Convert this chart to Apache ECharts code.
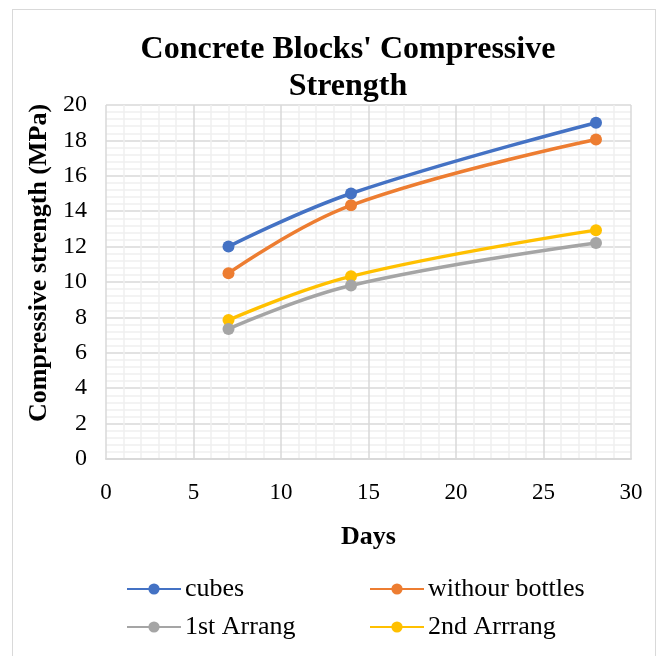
<!DOCTYPE html>
<html><head><meta charset="utf-8">
<script src="https://cdn.jsdelivr.net/npm/echarts@6/dist/echarts.min.js"></script>
<style>
html,body{margin:0;padding:0;background:#fff;}
#frame{position:absolute;left:12px;top:9px;width:644px;height:680px;border:1.5px solid #d9d9d9;box-sizing:border-box;}
#chart{position:absolute;left:0;top:0;width:662px;height:656px;}
</style>
</head><body>
<div id="frame"></div>
<div id="chart"></div>
<script>
const days = [7, 14, 28];
const cubes = [12.0, 15.0, 19.0];
const withourBottles = [10.5, 14.33, 18.05];
const firstArrang = [7.35, 9.8, 12.2];
const secondArrang = [7.85, 10.32, 12.93];
const seriesNames = ['cubes', 'withour bottles', '1st Arrang', '2nd Arrrang'];
const seriesColors = ['#4472C4', '#ED7D31', '#A5A5A5', '#FFC000'];
const xTicks = [0, 5, 10, 15, 20, 25, 30];
const yTicks = [0, 2, 4, 6, 8, 10, 12, 14, 16, 18, 20];

const FONT = '"Liberation Serif", "Times New Roman", serif';
const valuesList = [cubes, withourBottles, firstArrang, secondArrang];
const chart = echarts.init(document.getElementById('chart'), null, {renderer: 'canvas'});

function pairs(vals) { return days.map((d, i) => [d, vals[i]]); }

const legendPos = [[126, 576], [369, 576], [126, 614], [369, 614]];

chart.setOption({
  backgroundColor: 'transparent',
  animation: false,
  title: {
    text: "Concrete Blocks' Compressive\nStrength",
    left: 348, top: 31, textAlign: 'center', padding: 0,
    textStyle: {fontFamily: FONT, fontWeight: 'bold', fontSize: 32, lineHeight: 37, color: '#000'}
  },
  legend: seriesNames.map((n, i) => ({
    data: [n], left: legendPos[i][0], top: legendPos[i][1], padding: 0,
    itemWidth: 54, itemHeight: 14, itemGap: 4,
    textStyle: {fontFamily: FONT, fontSize: 26, color: '#000', padding: [0, 0, 0, -1]}
  })),
  grid: {left: 106, right: 31, top: 105, bottom: 197, containLabel: false},
  xAxis: {
    type: 'value', min: 0, max: 30, interval: 5,
    name: 'Days', nameLocation: 'middle', nameGap: 65,
    nameTextStyle: {fontFamily: FONT, fontWeight: 'bold', fontSize: 26, color: '#000'},
    axisLine: {show: true, lineStyle: {color: '#d9d9d9', width: 2}},
    axisTick: {show: false},
    axisLabel: {fontFamily: FONT, fontSize: 23, color: '#000', margin: 22,
      formatter: v => xTicks.includes(v) ? String(v) : ''},
    splitLine: {show: true, lineStyle: {color: '#d9d9d9', width: 1.5}},
    minorTick: {show: false, splitNumber: 5},
    minorSplitLine: {show: true, lineStyle: {color: '#f0f0f0', width: 1.5}}
  },
  yAxis: {
    type: 'value', min: 0, max: 20, interval: 2,
    name: 'Compressive strength (MPa)', nameLocation: 'middle', nameGap: 47,
    nameTextStyle: {fontFamily: FONT, fontWeight: 'bold', fontSize: 26, color: '#000', padding: [0, 0, 0, 38]},
    axisLine: {show: false},
    axisTick: {show: false},
    axisLabel: {fontFamily: FONT, fontSize: 24, color: '#000', margin: 19,
      formatter: v => yTicks.includes(v) ? String(v) : ''},
    splitLine: {show: true, lineStyle: {color: '#d9d9d9', width: 1.5}},
    minorTick: {show: false, splitNumber: 5},
    minorSplitLine: {show: true, lineStyle: {color: '#f0f0f0', width: 1.5}}
  },
  series: seriesNames.map((n, i) => ({
    name: n, type: 'line', smooth: 0.4,
    data: pairs(valuesList[i]),
    symbol: 'circle', symbolSize: 12,
    lineStyle: {color: seriesColors[i], width: 3.5},
    itemStyle: {color: seriesColors[i]},
    z: 10 - i
  }))
});
</script>
</body></html>
